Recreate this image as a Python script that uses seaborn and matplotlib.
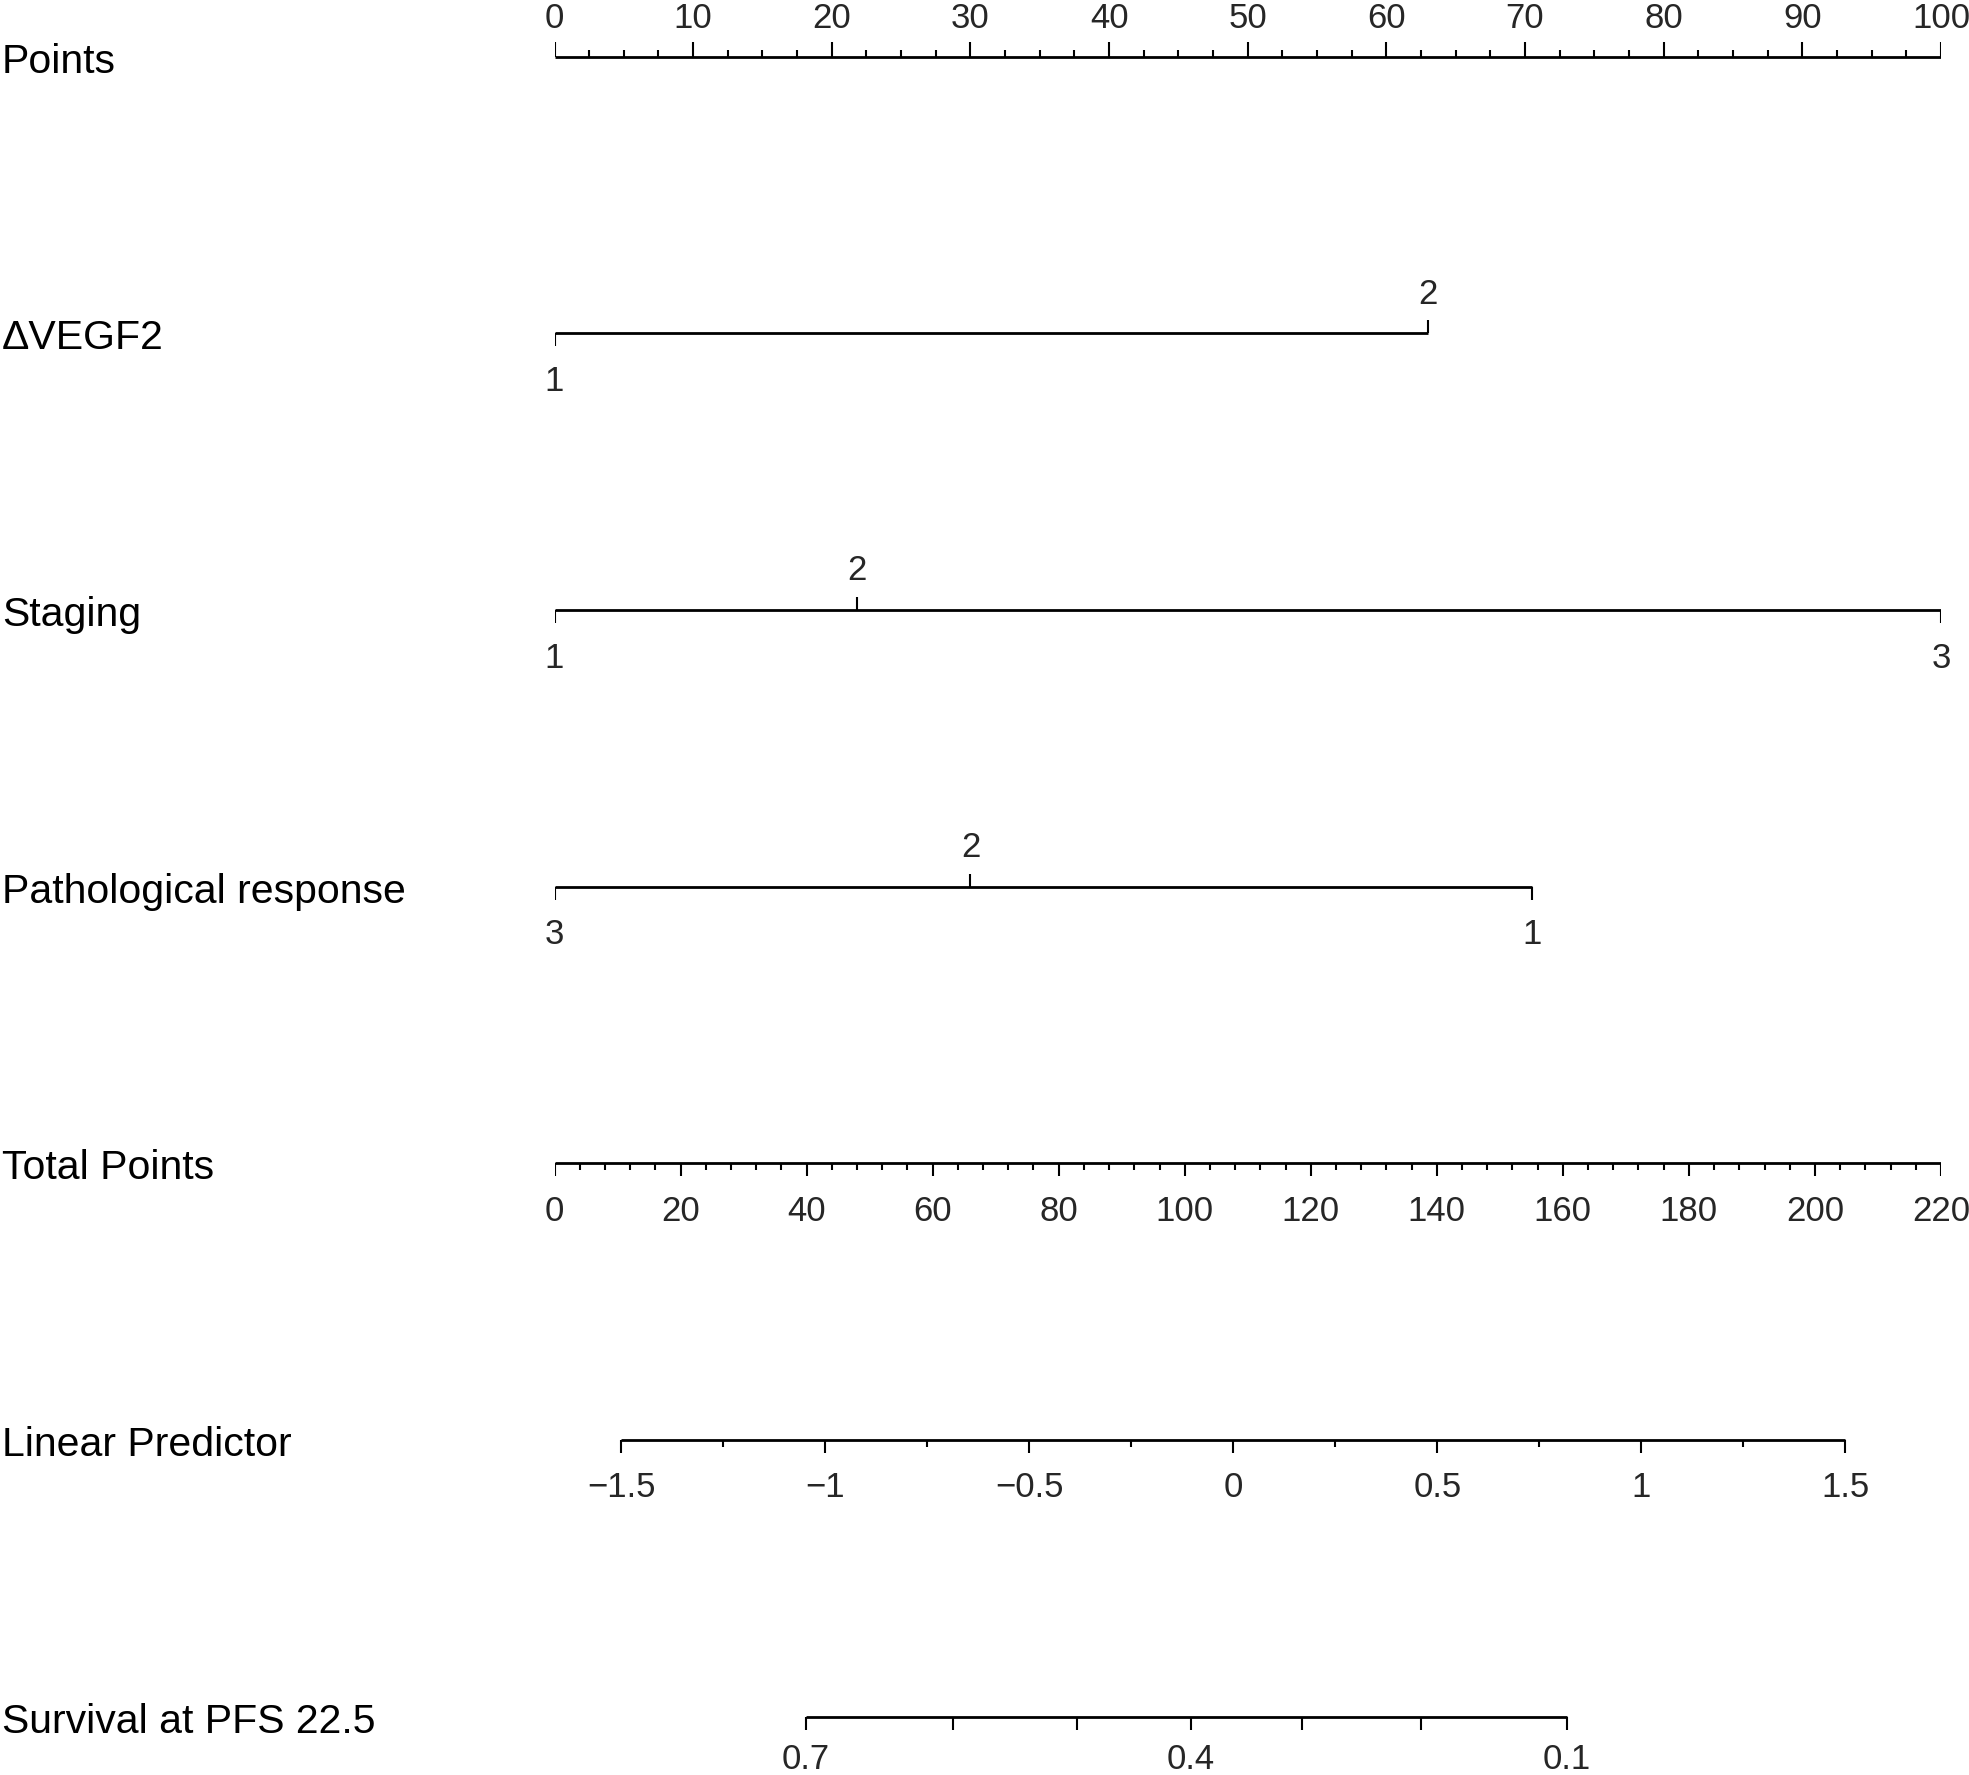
import numpy as np
import matplotlib
matplotlib.use("Agg")
import matplotlib.pyplot as plt
import seaborn as sns
import pandas as pd
from matplotlib import transforms

sns.set_theme(style="white")
plt.rcParams['font.family'] = ['Liberation Sans', 'DejaVu Sans']

# ---------------- data ----------------
row_labels = ["Points", "\u0394VEGF2", "Staging", "Pathological response",
              "Total Points", "Linear Predictor", "Survival at PFS 22.5"]

points_major = [0, 10, 20, 30, 40, 50, 60, 70, 80, 90, 100]
points_minor_step = 2.5

vegf_levels = ["1", "2"]
vegf_points = [0.0, 63.0]
vegf_side = ["below", "above"]

staging_levels = ["1", "2", "3"]
staging_points = [0.0, 21.8, 100.0]
staging_side = ["below", "above", "below"]

patho_levels = ["3", "2", "1"]
patho_points = [0.0, 30.0, 70.5]
patho_side = ["below", "above", "below"]

total_major = [0, 20, 40, 60, 80, 100, 120, 140, 160, 180, 200, 220]
total_minor_step = 4
total_max = 220

lp_major = [-1.5, -1, -0.5, 0, 0.5, 1, 1.5]
lp_minor_step = 0.25
tp_at_lp0 = 107.7      # total points where linear predictor = 0
tp_per_lp = 64.75      # total points per unit of linear predictor

surv_ticks = [0.7, 0.6, 0.5, 0.4, 0.3, 0.2, 0.1]
surv_labelled = [0.7, 0.4, 0.1]
baseline_surv = 0.362  # survival at linear predictor = 0

# ---------------- scales ----------------
def tp_to_pts(tp):
    return np.asarray(tp, float) * 100.0 / total_max

def lp_to_pts(lp):
    return tp_to_pts(tp_at_lp0 + np.asarray(lp, float) * tp_per_lp)

def surv_to_pts(s):
    s = np.asarray(s, float)
    lp = np.log(-np.log(s)) - np.log(-np.log(baseline_surv))
    return lp_to_pts(lp)

def fmt(v):
    return f"{v:g}".replace("-", "\u2212")

# ---------------- figure ----------------
W, H = 1969, 1775
fig = plt.figure(figsize=(W / 100, H / 100), dpi=100)
fig.patch.set_facecolor("white")
ax = fig.add_axes([554.5 / W, 0, 1386.5 / W, 1])
ax.set_xlim(0, 100)
ax.set_ylim(H, 0)
ax.axis("off")

row_y = [56.7 + 276.65 * i for i in range(7)]
LW_AX = 2.0
LW_TK = 1.5
FS_ROW = 29.5
FS_TK = 25
SHIFT = 5          # compensates matplotlib's descent-inclusive centring
OFF_UP = 42 - SHIFT + 2
OFF_DN = 43 + SHIFT
TK = 13
TK_MIN = 7

lab_tr = transforms.blended_transform_factory(fig.transFigure, ax.transData)
for lab, y in zip(row_labels, row_y):
    ax.text(2 / W, y + SHIFT, lab, transform=lab_tr, ha="left", va="center",
            fontsize=FS_ROW, color="black")

def hline(x0, x1, y):
    df = pd.DataFrame({"x": [x0, x1], "y": [y, y]})
    sns.lineplot(data=df, x="x", y="y", ax=ax, color="black", lw=LW_AX,
                 estimator=None, sort=False, solid_capstyle="butt")

def ticks(xs, y, length, direction):
    xs = np.atleast_1d(xs)
    y2 = y - length if direction == "up" else y + length
    ax.vlines(xs, y, y2, color="black", lw=LW_TK)

# Points axis (labels above)
y = row_y[0]
hline(0, 100, y)
pmin = np.arange(0, 100 + 1e-9, points_minor_step)
ticks([v for v in pmin if v not in points_major], y, TK_MIN, "up")
ticks(points_major, y, 15, "up")
for v in points_major:
    ax.text(v, y - 40 + 2, fmt(v), ha="center", va="center", fontsize=FS_TK)

# Categorical variables
for i, (levels, pts, side) in enumerate([
        (vegf_levels, vegf_points, vegf_side),
        (staging_levels, staging_points, staging_side),
        (patho_levels, patho_points, patho_side)]):
    y = row_y[i + 1]
    hline(min(pts), max(pts), y)
    for lev, p, s in zip(levels, pts, side):
        if s == "above":
            ticks([p], y, TK, "up")
            ax.text(p, y - OFF_UP, lev, ha="center", va="center", fontsize=FS_TK)
        else:
            ticks([p], y, TK, "down")
            ax.text(p, y + OFF_DN, lev, ha="center", va="center", fontsize=FS_TK)

# Total points
y = row_y[4]
hline(0, 100, y)
tmin = np.arange(0, total_max + 1e-9, total_minor_step)
ticks(tp_to_pts([v for v in tmin if v not in total_major]), y, TK_MIN, "down")
ticks(tp_to_pts(total_major), y, TK, "down")
for v in total_major:
    ax.text(float(tp_to_pts(v)), y + OFF_DN, fmt(v), ha="center", va="center",
            fontsize=FS_TK)

# Linear predictor
y = row_y[5]
hline(float(lp_to_pts(lp_major[0])), float(lp_to_pts(lp_major[-1])), y)
lmin = np.arange(lp_major[0], lp_major[-1] + 1e-9, lp_minor_step)
lmin = [v for v in lmin if not np.any(np.isclose(v, lp_major))]
ticks(lp_to_pts(lmin), y, TK_MIN, "down")
ticks(lp_to_pts(lp_major), y, TK, "down")
for v in lp_major:
    ax.text(float(lp_to_pts(v)), y + OFF_DN, fmt(v), ha="center", va="center",
            fontsize=FS_TK)

# Survival
y = row_y[6]
hline(float(surv_to_pts(surv_ticks[0])), float(surv_to_pts(surv_ticks[-1])), y)
ticks(surv_to_pts(surv_ticks), y, TK, "down")
for v in surv_labelled:
    ax.text(float(surv_to_pts(v)), y + OFF_DN - 5, fmt(v), ha="center", va="center",
            fontsize=FS_TK)

fig.savefig("out.png", dpi=100, facecolor="white")
